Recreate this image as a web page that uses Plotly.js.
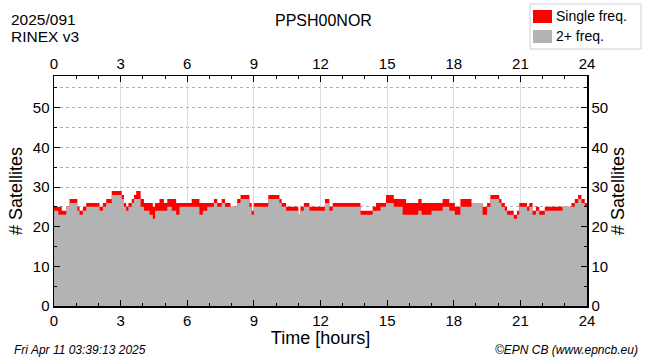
<!DOCTYPE html>
<html>
<head>
<meta charset="utf-8">
<script src="https://cdn.plot.ly/plotly-3.0.1.min.js"></script>
<style>html,body{margin:0;padding:0;background:#fff;}#chart{width:650px;height:362px;}</style>
</head>
<body>
<div id="chart"></div>
<script>
// Change points (hours) and satellite counts
const hours = [0.0,0.2,0.35,0.55,0.7,1.05,1.15,1.3,1.45,2.05,2.2,2.35,2.6,3.05,3.15,3.25,3.35,3.5,3.6,3.7,3.9,4.05,4.3,4.45,4.55,4.75,4.95,5.1,5.3,5.5,5.65,6.2,6.55,6.7,6.9,7.2,7.35,7.55,7.7,7.95,8.25,8.4,8.8,8.9,9.0,9.65,10.15,10.25,10.45,11.0,11.1,11.25,11.5,12.2,12.4,12.55,13.8,14.35,14.5,14.7,14.95,15.3,15.7,15.85,16.4,16.55,17.0,17.5,17.8,18.05,18.3,18.8,19.3,19.5,19.65,20.05,20.15,20.3,20.4,20.7,20.85,20.95,21.3,21.4,21.55,21.7,21.85,22.1,22.9,23.3,23.45,23.6,23.75,23.9,24.0];
const singleTotal = [25,25,24,25,27,25,24,25,26,25,26,27,29,28,26,25,26,27,28,29,27,26,26,25,26,27,26,27,27,26,26,27,26,26,26,27,26,27,26,25,27,28,26,24,26,28,27,26,25,23,25,26,25,27,25,26,24,25,26,26,28,27,27,26,27,26,26,27,26,25,27,26,25,26,28,27,26,25,24,23,24,26,25,26,24,25,24,25,25,26,27,28,27,26,26];
const dualFreq = [24,23,23,25,26,24,23,24,25,24,25,26,28,27,25,24,25,26,27,27,25,24,23,22,24,24,24,25,24,23,25,25,23,24,25,26,25,26,25,25,26,27,25,23,25,27,26,25,24,23,24,25,24,26,24,25,23,24,24,25,26,25,23,23,24,23,24,25,24,23,25,26,23,25,27,26,25,24,23,22,23,25,24,25,23,24,23,24,25,25,26,27,26,25,25];
const xTicks = [0,3,6,9,12,15,18,21,24];
const yTicks = [0,10,20,30,40,50];

const FONT = 'Liberation Sans, Arial, sans-serif';

const traces = [
  {x: hours, y: singleTotal, type: 'scatter', mode: 'lines', line: {shape: 'hv', color: '#ff0000', width: 0},
   fill: 'tozeroy', fillcolor: '#ff0000', name: 'Single freq.', showlegend: false, hoverinfo: 'skip'},
  {x: hours, y: dualFreq, type: 'scatter', mode: 'lines', line: {shape: 'hv', color: '#b3b3b3', width: 0},
   fill: 'tozeroy', fillcolor: '#b3b3b3', name: '2+ freq.', showlegend: false, hoverinfo: 'skip'},
  {x: [0, 24], y: [0, 0], xaxis: 'x2', yaxis: 'y2', mode: 'lines', line: {width: 0}, showlegend: false, hoverinfo: 'skip'}
];

const axisCommon = {
  showline: true, linecolor: '#000', linewidth: 1.5, ticks: 'inside', tickcolor: '#000', ticklen: 6, tickwidth: 1,
  tickfont: {family: FONT, size: 15, color: '#000'}, zeroline: false
};

const layout = {
  width: 650, height: 362,
  margin: {l: 54, r: 63, t: 76, b: 56},
  paper_bgcolor: '#fff', plot_bgcolor: '#fff',
  font: {family: FONT, color: '#000'},
  xaxis: Object.assign({}, axisCommon, {
    range: [0, 24], tickvals: xTicks, ticktext: xTicks.map(String),
    showgrid: true, gridcolor: '#dcdcdc', gridwidth: 1,
    minor: {dtick: 1, tick0: 0, ticks: 'inside', ticklen: 3, tickcolor: '#000', showgrid: false},
    title: {text: 'Time [hours]', font: {family: FONT, size: 18}, standoff: 2}
  }),
  xaxis2: Object.assign({}, axisCommon, {
    range: [0, 24], overlaying: 'x', side: 'top', anchor: 'y', tickvals: xTicks, ticktext: xTicks.map(String),
    showgrid: false, minor: {dtick: 1, tick0: 0, ticks: 'inside', ticklen: 3, tickcolor: '#000'}
  }),
  yaxis: Object.assign({}, axisCommon, {
    range: [0, 58], tickvals: yTicks, ticktext: yTicks.map(String),
    showgrid: true, gridcolor: '#b0b0b0', griddash: 'dot', gridwidth: 1,
    minor: {dtick: 5, tick0: 0, ticks: 'inside', ticklen: 3, tickcolor: '#000', showgrid: true, gridcolor: '#b0b0b0', griddash: 'dot'},
    title: {text: '# Satellites', font: {family: FONT, size: 18}, standoff: 5}
  }),
  yaxis2: Object.assign({}, axisCommon, {
    range: [0, 58], overlaying: 'y', side: 'right', anchor: 'x', tickvals: yTicks, ticktext: yTicks.map(String),
    showgrid: false, minor: {dtick: 5, tick0: 0, ticks: 'inside', ticklen: 3, tickcolor: '#000'},
    title: {text: '# Satellites', font: {family: FONT, size: 18}, standoff: 4}
  }),
  shapes: [
    {type: 'rect', xref: 'paper', yref: 'paper', x0: (530-54)/533, x1: (641-54)/533, y0: (306-49)/230, y1: (306-4)/230,
     line: {color: '#d0d0d0', width: 1}, fillcolor: '#fff'},
    {type: 'rect', xref: 'paper', yref: 'paper', x0: (533-54)/533, x1: (552-54)/533, y0: (306-23)/230, y1: (306-10)/230,
     line: {width: 0}, fillcolor: '#ff0000'},
    {type: 'rect', xref: 'paper', yref: 'paper', x0: (533-54)/533, x1: (552-54)/533, y0: (306-43)/230, y1: (306-30)/230,
     line: {width: 0}, fillcolor: '#b3b3b3'}
  ],
  annotations: [
    {xref: 'paper', yref: 'paper', x: (555-54)/533, y: (306-16)/230, xanchor: 'left', yanchor: 'middle', showarrow: false,
     text: 'Single freq.', font: {family: FONT, size: 14}, borderpad: 0},
    {xref: 'paper', yref: 'paper', x: (555-54)/533, y: (306-36)/230, xanchor: 'left', yanchor: 'middle', showarrow: false,
     text: '2+ freq.', font: {family: FONT, size: 14}, borderpad: 0},
    {xref: 'paper', yref: 'paper', x: (323-54)/533, y: (306-20)/230, xanchor: 'center', yanchor: 'middle', showarrow: false,
     text: 'PPSH00NOR', font: {family: FONT, size: 16}},
    {xref: 'paper', yref: 'paper', x: (10-54)/533, y: (306-19)/230, xanchor: 'left', yanchor: 'middle', showarrow: false,
     text: '2025/091', font: {family: FONT, size: 15.5}, borderpad: 0},
    {xref: 'paper', yref: 'paper', x: (10-54)/533, y: (306-36.5)/230, xanchor: 'left', yanchor: 'middle', showarrow: false,
     text: 'RINEX v3', font: {family: FONT, size: 15.5}, borderpad: 0},
    {xref: 'paper', yref: 'paper', x: (12-54)/533, y: (306-350)/230, xanchor: 'left', yanchor: 'middle', showarrow: false,
     text: '<i>Fri Apr 11 03:39:13 2025</i>', font: {family: FONT, size: 12}},
    {xref: 'paper', yref: 'paper', x: (640-54)/533, y: (306-350)/230, xanchor: 'right', yanchor: 'middle', showarrow: false,
     text: '<i>©EPN CB (www.epncb.eu)</i>', font: {family: FONT, size: 12}}
  ]
};

Plotly.newPlot('chart', traces, layout, {staticPlot: true, displayModeBar: false});
</script>
</body>
</html>
